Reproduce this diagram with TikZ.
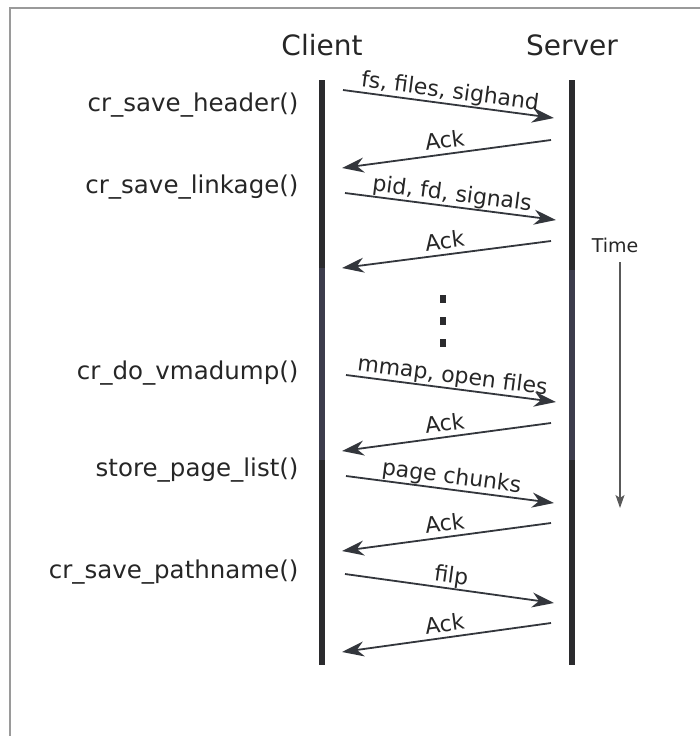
\documentclass[tikz,border=0pt]{standalone}
\usepackage{fontspec}
\setmainfont{DejaVu Sans}
\usetikzlibrary{arrows.meta}

\definecolor{lifedark}{HTML}{2B2B2E}
\definecolor{lifemid}{HTML}{3C3C4C}
\definecolor{framegray}{HTML}{9A9A9A}
\definecolor{msgcol}{HTML}{33363C}

\begin{document}
\begin{tikzpicture}[
    x=1pt, y=-1pt,
    every node/.style={font=\fontsize{22}{26}\selectfont, text=black!85},
    >={Stealth[length=22pt,width=15pt,inset=7pt]},
    lifeline/.style={line width=6.5pt, lifedark},
    msg/.style={->, line width=1.8pt, msgcol},
    msglabel/.style={midway, above, sloped, inner sep=2.5pt, text depth=0.25em},
    party/.style={font=\fontsize{28}{32}\selectfont},
    func/.style={anchor=east, font=\fontsize{24.5}{28}\selectfont}
]

\useasboundingbox (0,0) rectangle (700,736);

% Frame (only top and left edge show)
\draw[framegray, line width=1.5pt] (700,8) -- (10,8) -- (10,736);

% Parties
\node[party] (client) at (322,45) {Client};
\node[party] (server) at (572,45) {Server};

% Lifeline ends
\coordinate (ct) at (322,80);   % client top
\coordinate (cm) at (322,268);  % client middle part
\coordinate (cn) at (322,460);
\coordinate (cb) at (322,665);  % client bottom
\coordinate (st) at (572,80);   % server top
\coordinate (sm) at (572,270);
\coordinate (sn) at (572,460);
\coordinate (sb) at (572,665);  % server bottom

% Lifelines
\draw[lifeline] (ct) -- (cm);
\draw[lifeline, lifemid] (cm) -- (cn);
\draw[lifeline] (cn) -- (cb);
\draw[lifeline] (st) -- (sm);
\draw[lifeline, lifemid] (sm) -- (sn);
\draw[lifeline] (sn) -- (sb);

% Calls on the client side
\node[func] (hdr)  at (302,105) {cr\_save\_header()};
\node[func] (lnk)  at (302,187) {cr\_save\_linkage()};
\node[func] (vma)  at (302,373) {cr\_do\_vmadump()};
\node[func] (pgl)  at (302,470) {store\_page\_list()};
\node[func] (path) at (302,572) {cr\_save\_pathname()};

% Message ends
\coordinate (c1) at (343,90);  \coordinate (s1) at (554,118);
\coordinate (s2) at (551,140); \coordinate (c2) at (342,168);
\coordinate (c3) at (345,193); \coordinate (s3) at (556,220);
\coordinate (s4) at (551,241); \coordinate (c4) at (342,268);
\coordinate (c5) at (346,375); \coordinate (s5) at (556,402);
\coordinate (s6) at (551,423); \coordinate (c6) at (342,451);
\coordinate (c7) at (346,476); \coordinate (s7) at (554,503);
\coordinate (s8) at (551,523); \coordinate (c8) at (342,551);
\coordinate (c9) at (345,574); \coordinate (s9) at (554,603);
\coordinate (s10) at (551,623); \coordinate (c10) at (342,652);

% Messages
\draw[msg] (c1) -- (s1) node[msglabel] {fs, files, sighand};
\draw[msg] (s2) -- (c2) node[msglabel] {Ack};
\draw[msg] (c3) -- (s3) node[msglabel] {pid, fd, signals};
\draw[msg] (s4) -- (c4) node[msglabel] {Ack};
\draw[msg] (c5) -- (s5) node[msglabel] {mmap, open files};
\draw[msg] (s6) -- (c6) node[msglabel] {Ack};
\draw[msg] (c7) -- (s7) node[msglabel] {page chunks};
\draw[msg] (s8) -- (c8) node[msglabel] {Ack};
\draw[msg] (c9) -- (s9) node[msglabel] {filp};
\draw[msg] (s10) -- (c10) node[msglabel] {Ack};

% Dots for the skipped calls
\foreach \y in {299,321,343}
  \fill[lifedark] (440,\y-4) rectangle (446,\y+4);

% Time axis
\node[font=\fontsize{19}{22}\selectfont] (time) at (615,245) {Time};
\coordinate (tb) at (620,508);
\draw[->, >={Stealth[length=13pt,width=9pt,inset=3pt]}, line width=1.3pt, black!65]
  (620,262) -- (tb);

\end{tikzpicture}
\end{document}
